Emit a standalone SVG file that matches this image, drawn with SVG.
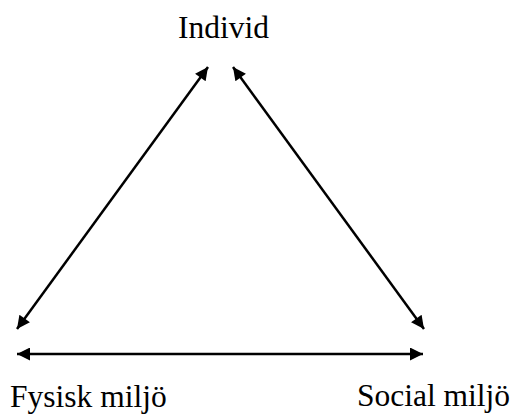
<svg xmlns="http://www.w3.org/2000/svg" width="514" height="414" viewBox="0 0 514 414">
<style>
.lbl{font-family:"Liberation Serif","Times New Roman",serif;font-size:31.5px;fill:#000}
.ln{stroke:#000;stroke-width:2.5;fill:none;marker-start:url(#ah);marker-end:url(#ah)}
</style>
<defs>
<marker id="ah" viewBox="0 0 10 10" refX="10" refY="5" markerWidth="15" markerHeight="13" markerUnits="userSpaceOnUse" orient="auto-start-reverse">
<path d="M0,0 L10,5 L0,10 z" fill="#000"/>
</marker>
</defs>
<rect width="514" height="414" fill="#fff"/>
<g id="connectors">
<line class="ln" x1="208" y1="67" x2="17" y2="329"/>
<line class="ln" x1="233" y1="67" x2="424" y2="329"/>
<line class="ln" x1="17" y1="354" x2="423" y2="354"/>
</g>
<g id="individ"><text class="lbl" x="178" y="38">Individ</text></g>
<g id="fysisk"><text class="lbl" x="10" y="407">Fysisk miljö</text></g>
<g id="social"><text class="lbl" x="357" y="406">Social miljö</text></g>
</svg>
